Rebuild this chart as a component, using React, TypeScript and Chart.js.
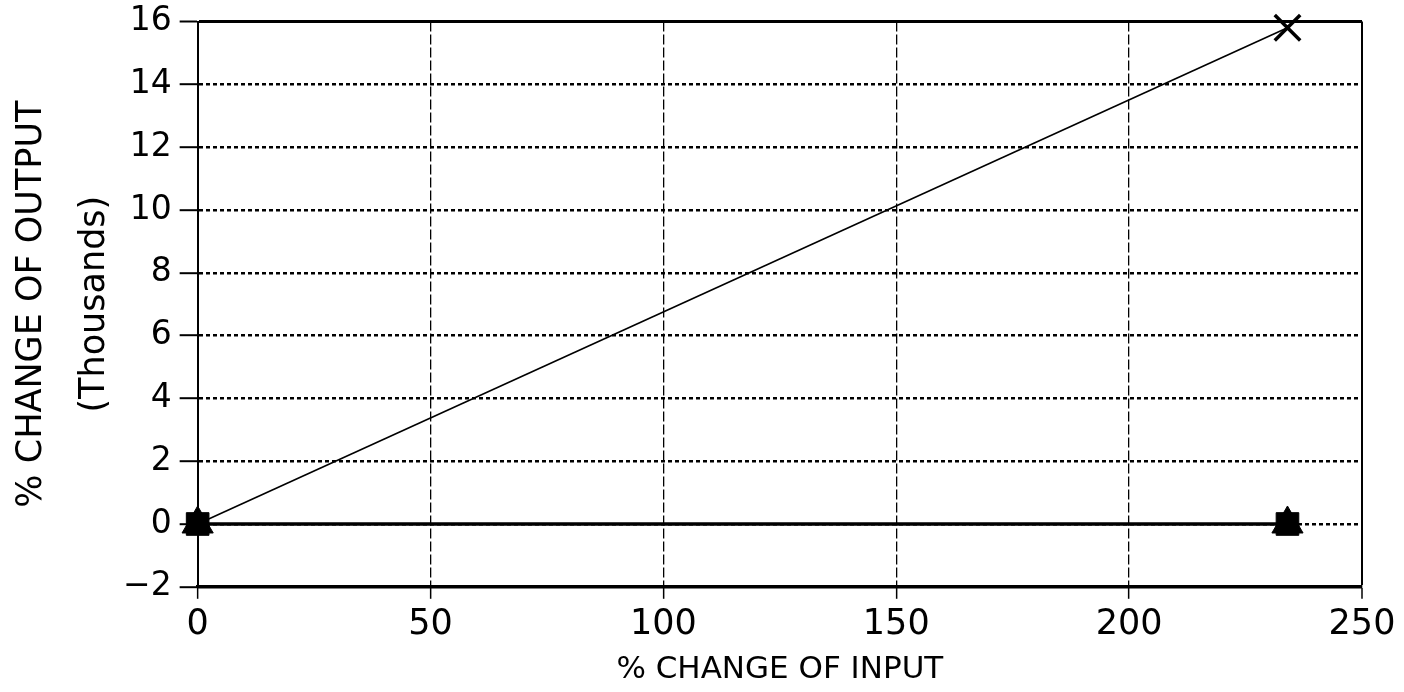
import React, { useEffect, useRef } from "react";
import { Chart, registerables } from "chart.js";

Chart.register(...registerables);

// % change of input (x axis)
const inputChange = [0, 234];
// % change of output, thousands (y axis)
const outputCross = [0, 15.8];
const outputSquare = [0, 0];
const outputTriangle = [0, 0];

const xTicks = [0, 50, 100, 150, 200, 250];
const yTicks = [-2, 0, 2, 4, 6, 8, 10, 12, 14, 16];

const xTitle = "% CHANGE OF INPUT";
const yTitle = ["% CHANGE OF OUTPUT", "(Thousands)"];

const FONT = "'DejaVu Sans', 'Liberation Sans', sans-serif";

function pts(xs: number[], ys: number[]) {
  return xs.map((x, i) => ({ x, y: ys[i] }));
}

export default function App() {
  const ref = useRef<HTMLCanvasElement | null>(null);

  useEffect(() => {
    if (!ref.current) return;
    const chart = new Chart(ref.current, {
      type: "line",
      data: {
        datasets: [
          {
            label: "Square",
            data: pts(inputChange, outputSquare),
            borderColor: "#000",
            backgroundColor: "#000",
            borderWidth: 3,
            pointStyle: "rect",
            pointRadius: 16,
            pointBorderWidth: 1,
            clip: false as any,
          },
          {
            label: "Triangle",
            data: pts(inputChange, outputTriangle),
            borderColor: "#000",
            backgroundColor: "#000",
            borderWidth: 3,
            pointStyle: "triangle",
            pointRadius: 18,
            pointBorderWidth: 1,
            clip: false as any,
          },
          {
            label: "Cross",
            data: pts(inputChange, outputCross),
            borderColor: "#000",
            backgroundColor: "#000",
            borderWidth: 1.6,
            pointStyle: "crossRot",
            pointRadius: [0, 18],
            pointBorderWidth: 3.5,
            clip: false as any,
          },
        ],
      },
      options: {
        animation: false,
        responsive: true,
        maintainAspectRatio: false,
        layout: { padding: { left: 0, right: 42, top: 21, bottom: 0 } },
        plugins: {
          legend: { display: false },
          tooltip: { enabled: false },
        },
        elements: { line: { tension: 0 } },
        scales: {
          x: {
            type: "linear",
            min: 0,
            max: 250,
            afterBuildTicks: (axis: any) => {
              axis.ticks = xTicks.map((v) => ({ value: v }));
            },
            ticks: {
              color: "#000",
              font: { family: FONT, size: 35 },
              padding: 5,
              maxRotation: 0,
            },
            grid: {
              color: "#000",
              lineWidth: (ctx: any) => (ctx.tick && ctx.tick.value === 250 ? 2 : 1.3),
              tickLength: 12,
              tickWidth: 1.5,
              tickColor: "#000",
              tickBorderDash: [],
            },
            border: {
              display: true,
              color: "#000",
              width: 3,
              dash: (ctx: any) => (ctx.tick && (ctx.tick.value === 250 || ctx.tick.value === 0) ? [] : [10, 3]),
            },
            title: {
              display: true,
              text: xTitle,
              color: "#000",
              font: { family: FONT, size: 31, lineHeight: 1.2 },
              padding: { top: 1, bottom: 3 },
            },
          },
          y: {
            type: "linear",
            min: -2,
            max: 16,
            afterBuildTicks: (axis: any) => {
              axis.ticks = yTicks.map((v) => ({ value: v }));
            },
            afterFit: (axis: any) => {
              axis.paddingTop = 0;
            },
            ticks: {
              color: "#000",
              font: { family: FONT, size: 33 },
              padding: 8,
              callback: (v: any) => String(v).replace("-", "\u2212"),
            },
            grid: {
              color: "#000",
              lineWidth: (ctx: any) => (ctx.tick && ctx.tick.value === 16 ? 3 : 2.4),
              tickLength: 18,
              tickWidth: 2,
              tickColor: "#000",
              tickBorderDash: [],
            },
            border: {
              display: true,
              color: "#000",
              width: 2,
              dash: (ctx: any) => (ctx.tick && (ctx.tick.value === 16 || ctx.tick.value === -2) ? [] : [4, 3]),
            },
            title: {
              display: true,
              text: yTitle,
              color: "#000",
              font: { family: FONT, size: 35, lineHeight: 1.8 },
              padding: { top: 0, bottom: -11 },
            },
          },
        },
      } as any,
    });
    return () => chart.destroy();
  }, []);

  return (
    <div style={{ position: "fixed", left: 0, top: 0, width: 1404, height: 692, background: "#fff" }}>
      <canvas ref={ref} />
    </div>
  );
}
